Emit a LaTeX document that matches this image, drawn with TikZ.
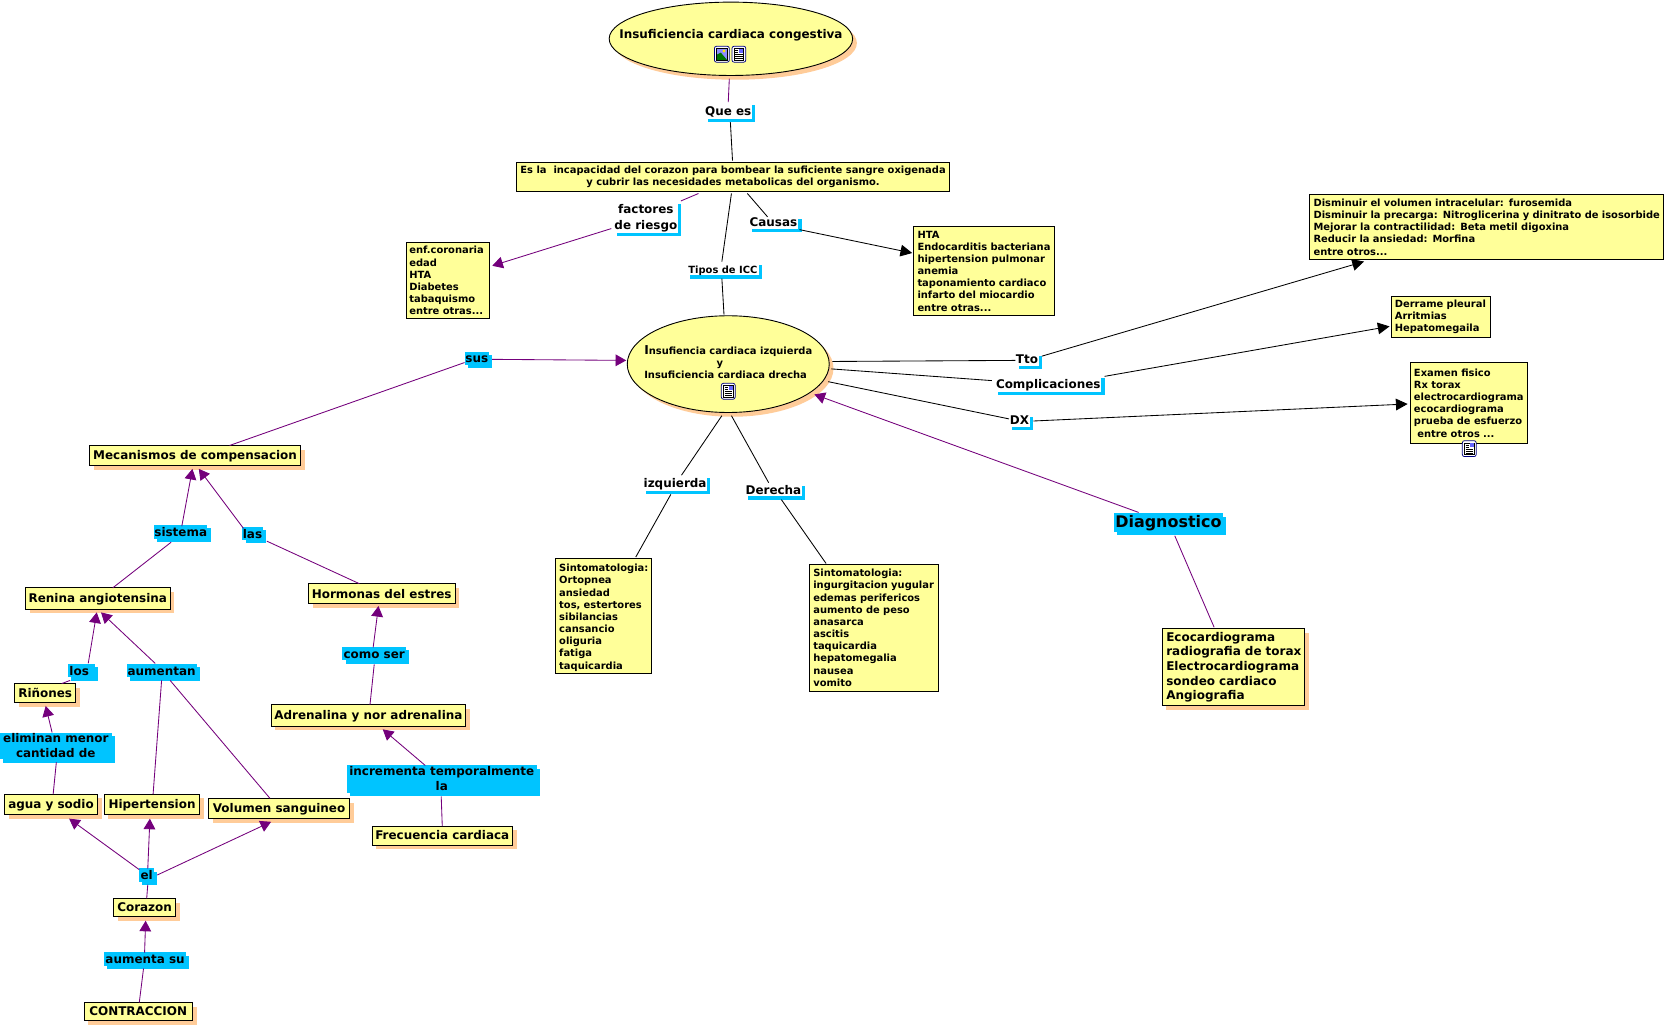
\documentclass[tikz,border=0pt]{standalone}
\usepackage{fontspec}
\setmainfont{DejaVu Sans}
\usetikzlibrary{shapes.geometric,shadows,arrows.meta}
\definecolor{cy}{HTML}{FFFF99}
\definecolor{peach}{HTML}{FFCC99}
\definecolor{sky}{HTML}{00C4FF}
\definecolor{prp}{HTML}{74007C}
\tikzset{
  x=1pt,y=-1pt,
  fs/.style={font=\fontsize{9.33}{11.45}\selectfont\bfseries},
  fm/.style={font=\fontsize{11.25}{14}\selectfont\bfseries},
  fl/.style={font=\fontsize{11.3}{13.75}\selectfont\bfseries},
  fx/.style={font=\fontsize{15}{17}\selectfont\bfseries},
  shp/.style={general shadow={fill=peach,shadow xshift=4pt,shadow yshift=-4pt}},
  ybase/.style={draw=black,line width=0.85pt,fill=cy,inner sep=0pt,align=center},
  ybox/.style={ybase,shp,rectangle,fm,text height=10pt,text depth=2pt},
  lbox/.style={ybase,rectangle,fs,align=left},
  oval/.style={ybase,shp,ellipse},
  otext/.style={inner sep=0pt},
  linkw/.style={rectangle,inner sep=0pt,fill=white,fm,align=center,
     general shadow={fill=sky,shadow xshift=3pt,shadow yshift=-3pt}},
  linkb/.style={rectangle,inner sep=0pt,fill=sky,fm,align=center,
     general shadow={fill=sky,shadow xshift=3pt,shadow yshift=-3pt}},
  one/.style={text height=10.4pt,text depth=2pt},
  pl/.style={draw=prp,line width=0.8pt},
  bl/.style={draw=black,line width=0.8pt},
  pa/.style={pl,-{Triangle[length=10pt,width=11pt,fill=prp]}},
  ba/.style={bl,-{Triangle[length=11pt,width=11pt,fill=black]}},
  icf/.style={draw=blue!50!black,line width=0.7pt,fill=white,rounded corners=2pt},
}
% connector: style, node a, offset a, node b, offset b
\newcommand\lk[5]{\draw[#1] ([shift={(#3)}]#2.center) -- ([shift={(#5)}]#4.center);}
\newcommand\icdoc[2]{%
 \begin{scope}[shift={(#1,#2)}]
  \draw[icf] (-6.5,-7.5) rectangle (6.5,7.5);
  \draw[black,line width=0.5pt,fill=white] (-4.5,-5.5) rectangle (4.5,5.5);
  \fill[blue!60!white] (0.5,-5) rectangle (4,-1.5);
  \draw[black,line width=0.6pt] (-3.5,-3.5)--(-0.5,-3.5) (-3.5,-1.5)--(-0.5,-1.5) (-3.5,0.5)--(3.5,0.5) (-3.5,2.2)--(3.5,2.2) (-3.5,4)--(3.5,4);
 \end{scope}}
\newcommand\icimg[2]{%
 \begin{scope}[shift={(#1,#2)}]
  \draw[icf] (-7,-7.5) rectangle (7,7.5);
  \fill[blue!45!white] (-5,-5.5) rectangle (5,5.5);
  \fill[green!45!black] (-5,5.5) -- (-5,0.5) -- (-1,-1.5) -- (5,5.5) -- cycle;
  \fill[yellow!90!orange] (2,-3) circle (1.6);
  \draw[black,line width=0.4pt] (-5,-5.5) rectangle (5,5.5);
 \end{scope}}
\begin{document}
\begin{tikzpicture}
\useasboundingbox (0,0) rectangle (1568,965);
\fill[white] (0,0) rectangle (1568,965);
% concepts
\node[oval,minimum width=229pt,minimum height=69pt] (e1) at (687.5,36.5) {};
\node[otext,fm] (e1t) at (687.5,33) {Insuficiencia cardiaca congestiva};
\node[lbox,minimum width=407pt,minimum height=27pt,align=center] (main) at (689.5,166.5) {Es la\ \ incapacidad del corazon para bombear la suficiente sangre oxigenada\\y cubrir las necesidades metabolicas del organismo.};
\node[lbox,minimum width=78pt,minimum height=72pt,text width=72pt] (enf) at (421,264) {enf.coronaria\\edad\\HTA\\Diabetes\\tabaquismo\\entre otras...};
\node[lbox,minimum width=133pt,minimum height=84pt,text width=125pt] (htab) at (925.5,255) {HTA\\\mbox{Endocarditis bacteriana}\\\mbox{hipertension pulmonar}\\anemia\\\mbox{taponamiento cardiaco}\\\mbox{infarto del miocardio}\\entre otras...};
\node[lbox,minimum width=333pt,minimum height=61pt,text width=326pt] (dism) at (1398.5,213.5) {Disminuir el volumen intracelular: furosemida\\\mbox{Disminuir la precarga: Nitroglicerina y dinitrato de isosorbide}\\Mejorar la contractilidad: Beta metil digoxina\\Reducir la ansiedad: Morfina\\entre otros...};
\node[lbox,minimum width=93pt,minimum height=38pt,text width=87pt] (derr) at (1355.5,298) {Derrame pleural\\Arritmias\\Hepatomegaila};
\node[lbox,minimum width=110pt,minimum height=76pt,text width=104pt] (exam) at (1382,379) {Examen fisico\\Rx torax\\\mbox{electrocardiograma}\\ecocardiograma\\prueba de esfuerzo\\\ entre otros ...};
\node[oval,minimum width=190pt,minimum height=91pt] (e2) at (685,342.5) {};
\node[otext,fs,align=left] (e2t) at (685,340.5) {{\fontsize{11.5}{11.4}\selectfont I}nsufiencia cardiaca izquierda\\\hspace*{68pt}y\\Insuficiencia cardiaca drecha};
\node[ybox,minimum width=199pt,minimum height=19pt] (mec) at (183.5,428.5) {Mecanismos de compensacion};
\node[ybox,minimum width=136pt,minimum height=20pt] (ren) at (92,563) {Renina angiotensina};
\node[ybox,minimum width=138pt,minimum height=19pt] (hor) at (359,558.5) {Hormonas del estres};
\node[ybox,minimum width=57pt,minimum height=18pt] (rin) at (42.5,652) {Riñones};
\node[ybox,minimum width=183pt,minimum height=20pt] (adr) at (346.5,673) {Adrenalina y nor adrenalina};
\node[ybox,minimum width=88pt,minimum height=19pt] (agua) at (48,756.5) {agua y sodio};
\node[ybox,minimum width=90pt,minimum height=19pt] (hip) at (143,756.5) {Hipertension};
\node[ybox,minimum width=133pt,minimum height=19pt] (vol) at (262.5,760.5) {Volumen sanguineo};
\node[ybox,minimum width=132pt,minimum height=18pt] (fre) at (416,786) {Frecuencia cardiaca};
\node[ybox,minimum width=58pt,minimum height=17pt] (cor) at (136,853.5) {Corazon};
\node[ybox,minimum width=102pt,minimum height=17pt] (con) at (130,951.5) {CONTRACCION};
\node[lbox,minimum width=91pt,minimum height=108pt,text width=83pt,text height=11pt] (sl) at (567.5,579) {Sintomatologia:\\Ortopnea\\ansiedad\\tos, estertores\\sibilancias\\cansancio\\oliguria\\fatiga\\taquicardia};
\node[lbox,minimum width=122pt,minimum height=119pt,text width=114pt] (sr) at (822,590.5) {Sintomatologia:\\\mbox{ingurgitacion yugular}\\edemas perifericos\\aumento de peso\\anasarca\\ascitis\\taquicardia\\hepatomegalia\\nausea\\vomito};
\node[ybase,shp,rectangle,fl,align=left,minimum width=134pt,minimum height=73pt,text width=126pt] (eco) at (1160,627.5) {Ecocardiograma\\\mbox{radiografia de torax}\\\mbox{Electrocardiograma}\\sondeo cardiaco\\Angiografia};
% linking phrases
\node[linkw,one,minimum width=44pt,minimum height=16pt] (quees) at (685,104) {Que es};
\node[linkw,font=\fontsize{11.25}{15}\selectfont\bfseries,text height=27pt,minimum width=60pt,minimum height=30pt] (fac) at (607.5,204) {factores\\de riesgo};
\node[linkw,one,minimum width=47pt,minimum height=12pt] (cau) at (727.5,209) {Causas};
\node[linkw,fs,text height=9.6pt,text depth=1pt,minimum width=68pt,minimum height=13pt] (tip) at (680,252.5) {Tipos de ICC};
\node[linkw,one,minimum width=22pt,minimum height=11pt] (tto) at (966,338) {Tto};
\node[linkw,one,minimum width=100pt,minimum height=16pt] (com) at (986,361) {Complicaciones};
\node[linkw,one,minimum width=20pt,minimum height=12pt] (dx) at (959,395) {DX};
\node[linkw,one,minimum width=60pt,minimum height=15pt] (izq) at (635,454.5) {izquierda};
\node[linkw,one,minimum width=53pt,minimum height=13pt] (der) at (727.5,460.5) {Derecha};
\node[linkb,one,minimum width=23pt,minimum height=12pt] (sus) at (448.5,337) {sus};
\node[linkb,fx,text height=12.5pt,text depth=3pt,minimum width=102pt,minimum height=17pt] (diag) at (1099,491.5) {Diagnostico};
\node[linkb,one,minimum width=50pt,minimum height=13pt] (sis) at (170,500.5) {sistema};
\node[linkb,one,minimum width=19pt,minimum height=12pt] (las) at (237.5,502) {las};
\node[linkb,one,minimum width=60pt,minimum height=12pt] (cs) at (352,615) {como ser};
\node[linkb,one,minimum width=25pt,minimum height=12pt] (los) at (76.5,631) {los\hspace*{4pt}};
\node[linkb,one,minimum width=66pt,minimum height=12pt] (aum) at (152,631) {aumentan};
\node[linkb,text depth=2pt,minimum width=105pt,minimum height=24pt] (eli) at (52.5,702) {eliminan menor\\cantidad de};
\node[linkb,text depth=2pt,minimum width=179pt,minimum height=26pt] (inc) at (415.5,733) {incrementa temporalmente\\la};
\node[linkb,one,minimum width=14pt,minimum height=12pt] (el) at (138,823) {el};
\node[linkb,one,minimum width=77pt,minimum height=12pt] (aus) at (136.5,902) {aumenta su};
% icons
\icimg{679}{51}\icdoc{695}{51}
\icdoc{685}{368}
\icdoc{1382}{422}
% connectors
\lk{pl}{e1}{-1.5,37.5}{quees}{0,-8}
\lk{bl}{quees}{2,11}{main}{-.5,-15.5}
\lk{pl}{main}{-32.5,15.5}{fac}{33,-15}
\lk{pa}{fac}{-32.5,11}{enf}{42,-14}
\lk{bl}{main}{13.5,15.5}{cau}{-5.5,-5}
\lk{ba}{cau}{24.5,7}{htab}{-67.5,-17}
\lk{bl}{main}{-1.5,15.5}{tip}{-1,-6.5}
\lk{bl}{tip}{-1,9.5}{e2}{-4,-46.5}
\lk{bl}{e2}{98,-2.5}{tto}{-11,1}
\lk{ba}{tto}{14,-3}{dism}{-115.5,32.5}
\lk{bl}{e2}{97,4.5}{com}{-53,-3}
\lk{ba}{com}{53,-7}{derr}{-48.5,9}
\lk{bl}{e2}{94,16.5}{dx}{-10,-1}
\lk{ba}{dx}{13,1}{exam}{-58,1}
\lk{bl}{e2}{-6,48.5}{izq}{6,-7.5}
\lk{bl}{izq}{-4,10.5}{sl}{30.5,-55}
\lk{bl}{e2}{3,48.5}{der}{-4.5,-6.5}
\lk{bl}{der}{7.5,9.5}{sr}{-45,-60.5}
\lk{pa}{diag}{-28,-9.5}{e2}{81,28.5}
\lk{pl}{eco}{-18,-37.5}{diag}{6,12.5}
\lk{pl}{mec}{32.5,-9.5}{sus}{-11.5,4}
\lk{pa}{sus}{14.5,1}{e2}{-96,-3.5}
\lk{pa}{sis}{1,-5.5}{mec}{-2.5,12.5}
\lk{pl}{ren}{14,-10}{sis}{-9,9.5}
\lk{pa}{las}{-8.5,-5}{mec}{3.5,12.5}
\lk{pl}{hor}{-21,-9.5}{las}{13.5,7}
\lk{pa}{cs}{-1,-6}{hor}{-3,11.5}
\lk{pl}{adr}{1.5,-10}{cs}{0,10}
\lk{pa}{los}{6.5,-7}{ren}{-1,13}
\lk{pl}{rin}{15.5,-9}{los}{-10.5,9}
\lk{pa}{aum}{-6,-7}{ren}{3,13}
\lk{pl}{hip}{1,-9.5}{aum}{0,9}
\lk{pl}{vol}{-8.5,-9.5}{aum}{8,9}
\lk{pa}{eli}{-3.5,-13}{rin}{.5,12}
\lk{pl}{agua}{2,-9.5}{eli}{.5,15}
\lk{pa}{inc}{-15.5,-13}{adr}{13.5,13}
\lk{pl}{fre}{0,-9}{inc}{-.5,16}
\lk{pa}{el}{-7,-5}{agua}{17,13.5}
\lk{pa}{el}{1,-6}{hip}{-2,13.5}
\lk{pa}{el}{10,0}{vol}{-7.5,12.5}
\lk{pl}{cor}{2,-8.5}{el}{1,9}
\lk{pa}{aus}{-.5,-6}{cor}{1,12.5}
\lk{pl}{con}{1,-8.5}{aus}{-1.5,9}
\end{tikzpicture}
\end{document}
